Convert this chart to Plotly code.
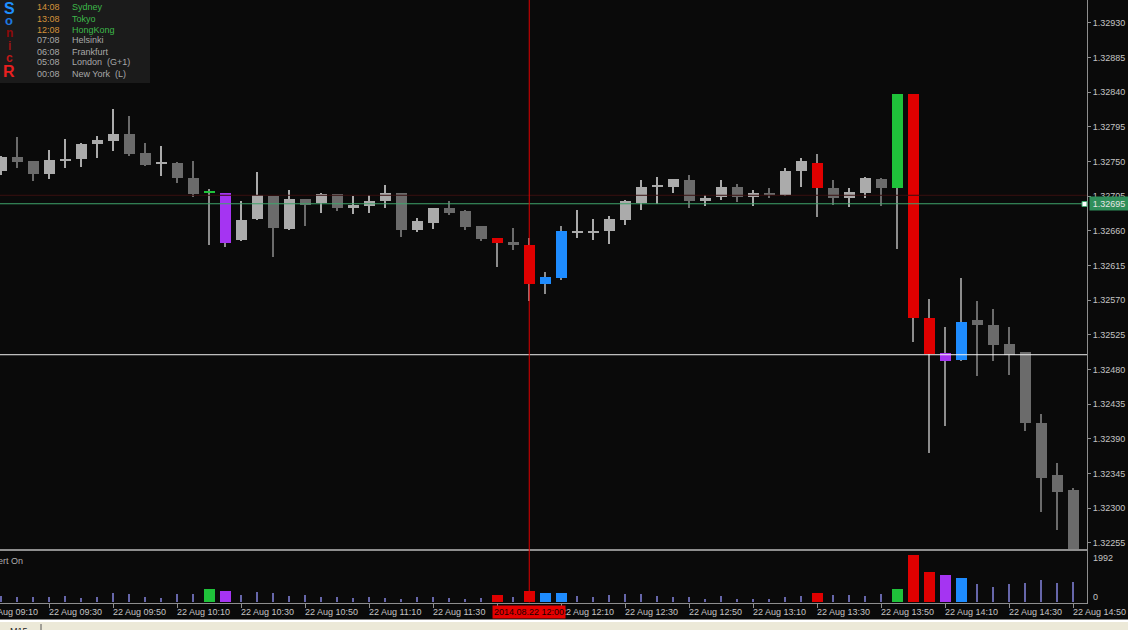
import plotly.graph_objects as go
import pandas as pd

W, H = 1128, 630

# ---------------- data ----------------
times = pd.date_range("2014-08-22 09:15", periods=68, freq="5min")

opens = [1.32737, 1.32756, 1.32750, 1.32734, 1.32750, 1.32753, 1.32773, 1.32776, 1.32786, 1.32761,
         1.32746, 1.32748, 1.32728, 1.32709, 1.32709, 1.32648, 1.32675, 1.32705, 1.32662, 1.32701,
         1.32696, 1.32708, 1.32689, 1.32692, 1.32698, 1.32709, 1.32661, 1.32670, 1.32689, 1.32685,
         1.32666, 1.32651, 1.32645, 1.32641, 1.32591, 1.32598, 1.32658, 1.32658, 1.32660, 1.32674,
         1.32696, 1.32717, 1.32717, 1.32726, 1.32698, 1.32704, 1.32717, 1.32704, 1.32709, 1.32706,
         1.32737, 1.32748, 1.32716, 1.32703, 1.32709, 1.32727, 1.32716, 1.32837, 1.32547, 1.32501,
         1.32492, 1.32544, 1.32538, 1.32513, 1.32502, 1.32411, 1.32343, 1.32324]
highs = [1.32757, 1.32782, 1.32750, 1.32765, 1.32779, 1.32774, 1.32783, 1.32818, 1.32809, 1.32774,
         1.32770, 1.32749, 1.32750, 1.32714, 1.32709, 1.32699, 1.32736, 1.32705, 1.32713, 1.32701,
         1.32709, 1.32708, 1.32705, 1.32706, 1.32719, 1.32709, 1.32676, 1.32690, 1.32699, 1.32687,
         1.32666, 1.32651, 1.32664, 1.32651, 1.32606, 1.32666, 1.32687, 1.32675, 1.32679, 1.32700,
         1.32726, 1.32730, 1.32727, 1.32732, 1.32706, 1.32726, 1.32721, 1.32713, 1.32715, 1.32741,
         1.32754, 1.32760, 1.32726, 1.32716, 1.32730, 1.32729, 1.32838, 1.32838, 1.32572, 1.32535,
         1.32598, 1.32569, 1.32558, 1.32535, 1.32502, 1.32422, 1.32359, 1.32326]
lows = [1.32732, 1.32741, 1.32724, 1.32727, 1.32742, 1.32743, 1.32755, 1.32764, 1.32757, 1.32744,
        1.32731, 1.32722, 1.32704, 1.32641, 1.32639, 1.32647, 1.32674, 1.32626, 1.32661, 1.32666,
        1.32683, 1.32686, 1.32682, 1.32683, 1.32689, 1.32652, 1.32658, 1.32662, 1.32680, 1.32661,
        1.32646, 1.32613, 1.32635, 1.32569, 1.32578, 1.32596, 1.32650, 1.32648, 1.32643, 1.32667,
        1.32687, 1.32695, 1.32709, 1.32689, 1.32692, 1.32700, 1.32697, 1.32692, 1.32703, 1.32705,
        1.32717, 1.32678, 1.32694, 1.32691, 1.32703, 1.32692, 1.32636, 1.32516, 1.32372, 1.32406,
        1.32491, 1.32472, 1.32491, 1.32473, 1.32400, 1.32295, 1.32271, 1.32230]
closes = [1.32756, 1.32749, 1.32734, 1.32752, 1.32753, 1.32773, 1.32778, 1.32785, 1.32760, 1.32745,
          1.32749, 1.32728, 1.32708, 1.32711, 1.32644, 1.32674, 1.32706, 1.32664, 1.32701, 1.32694,
          1.32708, 1.32689, 1.32694, 1.32699, 1.32709, 1.32661, 1.32672, 1.32689, 1.32683, 1.32665,
          1.32649, 1.32644, 1.32641, 1.32591, 1.32600, 1.32660, 1.32660, 1.32660, 1.32675, 1.32699,
          1.32717, 1.32719, 1.32727, 1.32698, 1.32703, 1.32717, 1.32704, 1.32709, 1.32707, 1.32737,
          1.32750, 1.32716, 1.32703, 1.32710, 1.32729, 1.32716, 1.32837, 1.32547, 1.32500, 1.32491,
          1.32541, 1.32537, 1.32512, 1.32499, 1.32411, 1.32339, 1.32321, 1.32232]
volumes = [253, 223, 223, 223, 253, 156, 223, 392, 324, 211,
           156, 324, 324, 535, 463, 295, 421, 392, 253, 282,
           223, 223, 156, 223, 156, 114, 223, 198, 156, 114,
           181, 282, 223, 463, 392, 392, 253, 211, 295, 337,
           337, 253, 223, 223, 126, 253, 126, 126, 126, 223,
           253, 392, 295, 295, 253, 324, 547, 1992, 1276, 1150,
           1011, 745, 644, 745, 813, 939, 813, 855]
# Sonic R signal colouring for particular bars (index -> signal)
signals = {13: "green", 14: "purple", 31: "red", 33: "red", 34: "blue", 35: "blue",
           51: "red", 56: "green", 57: "red", 58: "red", 59: "purple", 60: "blue"}

price_tick_vals = [1.32255, 1.32300, 1.32345, 1.32390, 1.32435, 1.32480, 1.32525, 1.32570,
                   1.32615, 1.32660, 1.32705, 1.32750, 1.32795, 1.32840, 1.32885, 1.32930]
price_tick_text = ["1.32255", "1.32300", "1.32345", "1.32390", "1.32435", "1.32480", "1.32525", "1.32570",
                   "1.32615", "1.32660", "1.32705", "1.32750", "1.32795", "1.32840", "1.32885", "1.32930"]
time_tick_vals = ["2014-08-22 09:10", "2014-08-22 09:30", "2014-08-22 09:50", "2014-08-22 10:10",
                  "2014-08-22 10:30", "2014-08-22 10:50", "2014-08-22 11:10", "2014-08-22 11:30",
                  "2014-08-22 11:50", "2014-08-22 12:10", "2014-08-22 12:30", "2014-08-22 12:50",
                  "2014-08-22 13:10", "2014-08-22 13:30", "2014-08-22 13:50", "2014-08-22 14:10",
                  "2014-08-22 14:30", "2014-08-22 14:50"]
time_tick_text = ["22 Aug 09:10", "22 Aug 09:30", "22 Aug 09:50", "22 Aug 10:10", "22 Aug 10:30",
                  "22 Aug 10:50", "22 Aug 11:10", "22 Aug 11:30", "22 Aug 11:50", "22 Aug 12:10",
                  "22 Aug 12:30", "22 Aug 12:50", "22 Aug 13:10", "22 Aug 13:30", "22 Aug 13:50",
                  "22 Aug 14:10", "22 Aug 14:30", "22 Aug 14:50"]

bid_price = 1.32695
ask_price = 1.32706
level_price = 1.32499
cursor_time = "2014-08-22 12:00"
cursor_label = "2014.08.22 12:00"
vol_max_label = "1992"

session_times = ["14:08", "13:08", "12:08", "07:08", "06:08", "05:08", "00:08"]
session_cities = ["Sydney", "Tokyo", "HongKong", "Helsinki", "Frankfurt",
                  "London\u00a0\u00a0(G+1)", "New York\u00a0\u00a0(L)"]
session_open = [True, True, True, False, False, False, False]

# ---------------- style ----------------
BG = "#0A0A0A"
FONT = "Liberation Sans"
AXC = "#8E8E8E"
TXT = "#C4C4C4"
SIG = {"green": "#1FC23A", "purple": "#A534F2", "red": "#E00000", "blue": "#1E8CFF"}
LIGHT, DARK, WICKC = "#ABABAB", "#6B6B6B", "#8C8C8C"
CANDLE_PX = 16  # pixel spacing of one 5-minute candle at this zoom

def px(x):
    return x / W

def py(y):
    return 1 - y / H

FIVE = 300000  # ms per candle
body_w = 0.66 * FIVE
wick_w = 0.13 * FIVE

body_col, wick_col, vol_col, vol_w = [], [], [], []
for i in range(len(times)):
    up = closes[i] >= opens[i]
    if i in signals:
        body_col.append(SIG[signals[i]])
        wick_col.append(WICKC)
        vol_col.append(SIG[signals[i]])
        vol_w.append(0.68 * FIVE)
    else:
        body_col.append(LIGHT if up else DARK)
        wick_col.append(LIGHT if up else DARK)
        vol_col.append("#6666AA")
        vol_w.append(0.14 * FIVE)

fig = go.Figure()
fig.add_trace(go.Bar(x=times, base=lows, y=[h - l for h, l in zip(highs, lows)],
                     width=wick_w, marker=dict(color=wick_col, line=dict(width=0)),
                     xaxis="x", yaxis="y", hoverinfo="skip", showlegend=False))
fig.add_trace(go.Bar(x=times, base=[min(o, c) for o, c in zip(opens, closes)],
                     y=[abs(c - o) for o, c in zip(opens, closes)],
                     width=body_w, marker=dict(color=body_col, line=dict(width=0)),
                     xaxis="x", yaxis="y", showlegend=False,
                     customdata=list(zip(opens, highs, lows, closes)),
                     hovertemplate="O %{customdata[0]}<br>H %{customdata[1]}<br>L %{customdata[2]}<br>C %{customdata[3]}<extra></extra>"))
fig.add_trace(go.Bar(x=times, y=volumes, width=vol_w,
                     marker=dict(color=vol_col, line=dict(width=0)),
                     xaxis="x2", yaxis="y2", showlegend=False))

x_left = pd.Timestamp("2014-08-22 09:15") - pd.Timedelta(seconds=24)
x_right = pd.Timestamp("2014-08-22 14:50") + pd.Timedelta(seconds=258)

XD = [0, px(1087)]
fig.update_layout(
    width=W, height=H, margin=dict(l=0, r=0, t=0, b=0),
    paper_bgcolor=BG, plot_bgcolor=BG, barmode="overlay", bargap=0,
    showlegend=False, font=dict(family=FONT, size=9, color=TXT),
    xaxis=dict(domain=XD, range=[x_left, x_right], anchor="y", showticklabels=False,
               showgrid=False, zeroline=False, showline=True, linecolor=AXC, linewidth=1,
               ticks="", automargin=False),
    yaxis=dict(domain=[py(549), 1], range=[1.322468, 1.329595], side="right", anchor="x",
               tickvals=price_tick_vals, ticktext=price_tick_text, ticks="outside",
               ticklen=3, tickcolor=AXC, tickfont=dict(family=FONT, size=9, color=TXT),
               showgrid=False, zeroline=False, showline=True, linecolor=AXC, linewidth=1,
               automargin=False),
    xaxis2=dict(domain=XD, range=[x_left, x_right], anchor="y2", matches="x",
                tickvals=time_tick_vals, ticks="outside", ticklen=4, tickcolor=AXC,
                showticklabels=False, showgrid=False, zeroline=False, showline=True,
                mirror=True, linecolor=AXC, linewidth=1, automargin=False),
    yaxis2=dict(domain=[py(602.5), py(551)], range=[-21, 2148], side="right", anchor="x2",
                showticklabels=False, ticks="", showgrid=False, zeroline=False,
                showline=True, linecolor=AXC, linewidth=1, automargin=False),
)

shapes = []
# faint ask line, bid line, level line
shapes.append(dict(type="line", xref="paper", yref="y", x0=0, x1=px(1087), y0=ask_price, y1=ask_price,
                   line=dict(color="#3A1010", width=1)))
shapes.append(dict(type="line", xref="paper", yref="y", x0=0, x1=px(1087), y0=bid_price, y1=bid_price,
                   line=dict(color="#3FA56B", width=1)))
shapes.append(dict(type="line", xref="paper", yref="y", x0=0, x1=px(1087), y0=level_price, y1=level_price,
                   line=dict(color="#F0F0F0", width=1)))
shapes.append(dict(type="rect", xref="paper", yref="paper", x0=px(1082), x1=px(1087),
                   y0=py(206.5), y1=py(201.5), fillcolor="#FFFFFF", line=dict(color="#3FA56B", width=1)))
# red cursor line through both panes
shapes.append(dict(type="line", xref="x", yref="paper", x0=cursor_time, x1=cursor_time,
                   y0=py(602.5), y1=1, line=dict(color="#E00000", width=1)))
# session box
shapes.append(dict(type="rect", xref="paper", yref="paper", x0=0, x1=px(150), y0=py(83), y1=1,
                   fillcolor="#1B1B1B", line=dict(width=0), layer="above"))
# bottom status strip
shapes.append(dict(type="rect", xref="paper", yref="paper", x0=0, x1=1, y0=py(622), y1=py(619.5),
                   fillcolor="#FFFFFF", line=dict(width=0)))
shapes.append(dict(type="rect", xref="paper", yref="paper", x0=0, x1=1, y0=0, y1=py(622),
                   fillcolor="#ECE9D8", line=dict(width=0)))
shapes.append(dict(type="line", xref="paper", yref="paper", x0=px(41), x1=px(41), y0=0, y1=py(624),
                   line=dict(color="#555555", width=1)))
fig.update_layout(shapes=shapes)

ann = []
# time labels (left aligned to ticks); a tick before the first candle is anchored
# on the first candle and shifted back by whole candle widths so it is not hidden
first_t = times[0]
for tv, tt in zip(time_tick_vals, time_tick_text):
    t = pd.Timestamp(tv)
    shift = -2
    anchor = tv
    if t < first_t:
        ncandles = (first_t - t) / pd.Timedelta(minutes=5)
        shift -= ncandles * CANDLE_PX
        anchor = str(first_t)
    ann.append(dict(x=anchor, xref="x2", y=py(612), yref="paper", text=tt, showarrow=False,
                    xanchor="left", yanchor="middle", xshift=shift,
                    font=dict(family=FONT, size=9, color=TXT)))
# cursor time label
ann.append(dict(x=cursor_time, xref="x2", y=py(612), yref="paper", text=cursor_label, showarrow=False,
                xanchor="center", yanchor="middle", bgcolor="#E60000", borderpad=1,
                font=dict(family=FONT, size=9, color="#1A0000")))
# bid label
ann.append(dict(x=px(1089), xref="paper", y=bid_price, yref="y", text=f"{bid_price:.5f}", showarrow=False,
                xanchor="left", yanchor="middle", bgcolor="#2F8F5A", width=36, height=11,
                font=dict(family=FONT, size=9, color="#E6E6E6")))
# volume scale labels
ann.append(dict(x=px(1091), xref="paper", y=py(558), yref="paper", text=vol_max_label, showarrow=False,
                xanchor="left", yanchor="middle", font=dict(family=FONT, size=9, color=TXT)))
ann.append(dict(x=px(1091), xref="paper", y=py(596.5), yref="paper", text="0", showarrow=False,
                xanchor="left", yanchor="middle", font=dict(family=FONT, size=9, color=TXT)))
# indicator caption
ann.append(dict(x=px(25), xref="paper", y=py(561), yref="paper", text="Alert On", showarrow=False,
                xanchor="right", yanchor="middle", font=dict(family=FONT, size=9, color="#B0B0B0")))
# status bar tab
ann.append(dict(x=px(8), xref="paper", y=py(624), yref="paper", text="M15", showarrow=False,
                xanchor="left", yanchor="top", font=dict(family=FONT, size=9, color="#222222")))
# Sonic R vertical logo
logo = [("S", 9, 16, "#1E90FF"), ("o", 20, 13, "#1E78E0"), ("n", 33, 12, "#8E0A0A"),
        ("i", 46, 12, "#9A1414"), ("c", 58, 12, "#C01818"), ("R", 71, 16, "#E82020")]
for ch, yy, sz, col in logo:
    ann.append(dict(x=px(9), xref="paper", y=py(yy), yref="paper", text=f"<b>{ch}</b>", showarrow=False,
                    xanchor="center", yanchor="middle", font=dict(family=FONT, size=sz, color=col)))
# sessions
for k, (tm, city, op) in enumerate(zip(session_times, session_cities, session_open)):
    yy = 7.5 + 11 * k
    ann.append(dict(x=px(37), xref="paper", y=py(yy), yref="paper", text=tm, showarrow=False,
                    xanchor="left", yanchor="middle", xshift=-2,
                    font=dict(family=FONT, size=9, color="#D4923A" if op else "#A8A8A8")))
    ann.append(dict(x=px(72), xref="paper", y=py(yy), yref="paper", text=city, showarrow=False,
                    xanchor="left", yanchor="middle", xshift=-2,
                    font=dict(family=FONT, size=9, color="#3DB84A" if op else "#A8A8A8")))
fig.update_layout(annotations=ann)

fig.write_html("out.html")
